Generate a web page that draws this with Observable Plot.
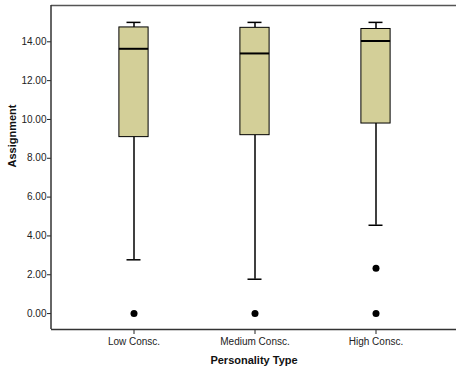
<!DOCTYPE html>
<html>
<head>
<meta charset="utf-8">
<script src="https://cdn.jsdelivr.net/npm/d3@7"></script>
<script src="https://cdn.jsdelivr.net/npm/@observablehq/plot@0.6"></script>
<style>
  body { margin: 0; background: #fff; }
  #chart svg { font-family: "Liberation Sans", Arial, sans-serif; display: block; }
</style>
</head>
<body>
<div id="chart"></div>
<script>
const categories = ["Low Consc.", "Medium Consc.", "High Consc."];
const whiskerLow = [2.77, 1.77, 4.55];
const q1 = [9.09, 9.19, 9.79];
const median = [13.64, 13.40, 14.04];
const q3 = [14.74, 14.72, 14.66];
const whiskerHigh = [15.0, 15.0, 15.0];
const outlierCat = ["Low Consc.", "Medium Consc.", "High Consc.", "High Consc."];
const outlierVal = [0, 0, 2.33, 0];
const yTicks = [0, 2, 4, 6, 8, 10, 12, 14];

const rows = categories.map((c, i) => ({
  cat: c, lo: whiskerLow[i], q1: q1[i], med: median[i], q3: q3[i], hi: whiskerHigh[i]
}));
const outliers = outlierCat.map((c, i) => ({cat: c, v: outlierVal[i]}));

const W = 456, H = 368;
const yMin = -0.82, yMax = 15.87;
const boxInset = 45.9, capInset = 53.5;

const plot = Plot.plot({
  width: W,
  height: H,
  marginLeft: 51,
  marginRight: 0,
  marginTop: 5,
  marginBottom: 39,
  style: {fontSize: "10px", color: "#222", background: "#fff"},
  x: {
    type: "band",
    domain: categories,
    range: [72.1, 437.4],
    padding: 0,
    label: null,
    tickSize: 5,
    tickPadding: 3
  },
  y: {
    domain: [yMin, yMax],
    ticks: yTicks,
    tickFormat: d => d.toFixed(2),
    tickSize: 4,
    tickPadding: 1,
    label: null
  },
  marks: [
    Plot.ruleY([yMax], {stroke: "#555", strokeWidth: 1.5}),
    Plot.ruleY([yMin], {stroke: "#333", strokeWidth: 1.5}),
    Plot.ruleX(rows, {x: "cat", y1: "lo", y2: "q1", stroke: "#000", strokeWidth: 1.5}),
    Plot.ruleX(rows, {x: "cat", y1: "q3", y2: "hi", stroke: "#000", strokeWidth: 1.5}),
    Plot.barY(rows, {x: "cat", y1: "q1", y2: "q3", fill: "#d3cf98", stroke: "#000", strokeWidth: 1, insetLeft: boxInset, insetRight: boxInset}),
    Plot.tickY(rows, {x: "cat", y: "med", stroke: "#000", strokeWidth: 2, insetLeft: boxInset, insetRight: boxInset}),
    Plot.tickY(rows, {x: "cat", y: "lo", stroke: "#000", strokeWidth: 1.5, insetLeft: capInset, insetRight: capInset}),
    Plot.tickY(rows, {x: "cat", y: "hi", stroke: "#000", strokeWidth: 1.5, insetLeft: capInset, insetRight: capInset}),
    Plot.dot(outliers, {x: "cat", y: "v", r: 3.5, fill: "#000", stroke: null}),
    Plot.text(["Personality Type"], {frameAnchor: "bottom", dy: 34, fontWeight: "bold", fontSize: 11, fill: "#111"}),
    Plot.text(["Assignment"], {frameAnchor: "left", dx: -39, rotate: -90, fontWeight: "bold", fontSize: 11, fill: "#111"})
  ]
});

document.getElementById("chart").appendChild(plot);
// left frame line
d3.select(plot).append("line")
  .attr("x1", 51).attr("x2", 51).attr("y1", 5).attr("y2", H - 39)
  .attr("stroke", "#333").attr("stroke-width", 1.5);
</script>
</body>
</html>
